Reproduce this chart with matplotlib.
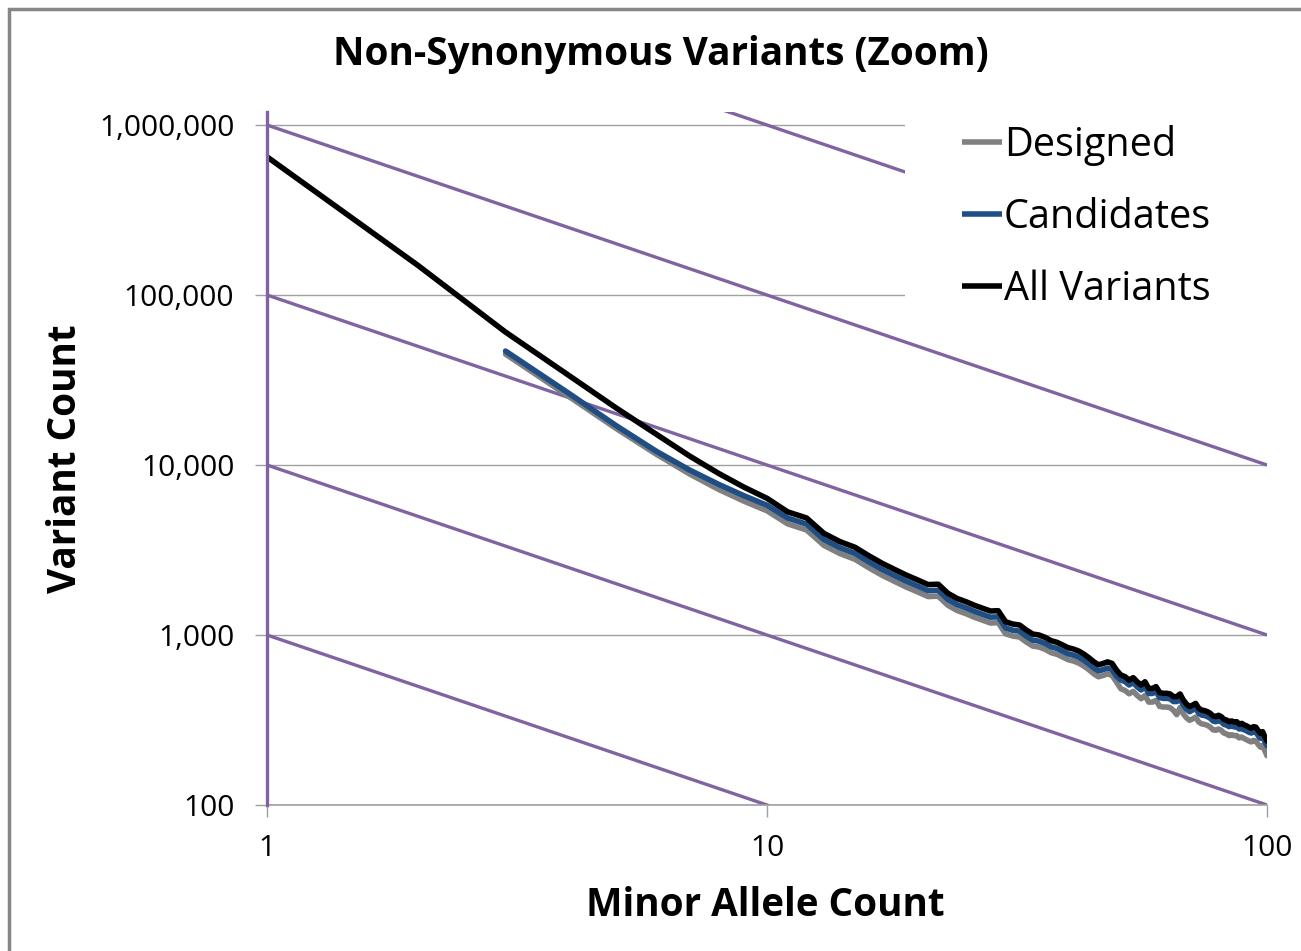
import matplotlib
matplotlib.use("Agg")
import matplotlib.pyplot as plt
from matplotlib.patches import Rectangle
from matplotlib.ticker import FixedLocator, FixedFormatter, NullLocator

plt.rcParams['font.family'] = ['Open Sans', 'DejaVu Sans']

# ---------------- data ----------------
title = "Non-Synonymous Variants (Zoom)"
x_label = "Minor Allele Count"
y_label = "Variant Count"
series_names = ["Designed", "Candidates", "All Variants"]

x_all = list(range(1, 101))
all_variants = [
    650000, 150000, 60500, 33900, 21600, 15200, 11300, 8930, 7400, 6370,
    5300, 4880, 3960, 3540, 3280, 2920, 2640, 2430, 2250, 2110,
    1980, 1990, 1760, 1640, 1570, 1495, 1436, 1384, 1390, 1197,
    1160, 1145, 1070, 1013, 1000, 968, 926, 906, 874, 842,
    827, 805, 773, 736, 697, 668, 680, 695, 680, 622,
    582, 569, 543, 561, 531, 508, 531, 485, 485, 497,
    458, 454, 454, 450, 434, 434, 450, 415, 393, 379,
    387, 396, 371, 362, 359, 354, 346, 334, 331, 337,
    331, 319, 316, 309, 312, 308, 309, 299, 302, 296,
    292, 287, 283, 289, 287, 274, 264, 270, 252, 238,
]

x_sub = list(range(3, 101))
candidates = [
    46800, 26600, 17000, 12070, 9350, 7700, 6590, 5800,
    4876, 4490, 3643, 3257, 3018, 2686, 2429, 2236, 2070, 1941,
    1822, 1831, 1619, 1509, 1444, 1375, 1321, 1273, 1279, 1101,
    1067, 1053, 984, 932, 920, 891, 852, 834, 804, 775,
    761, 741, 711, 677, 641, 615, 626, 639, 626, 572,
    544, 532, 508, 525, 496, 475, 496, 453, 453, 465,
    428, 424, 424, 421, 406, 406, 421, 388, 367, 354,
    362, 370, 347, 338, 336, 331, 324, 312, 309, 315,
    309, 298, 295, 289, 292, 288, 289, 280, 282, 277,
    273, 268, 265, 270, 268, 256, 247, 252, 236, 223,
]
designed = [
    44900, 25500, 16350, 11600, 8860, 7190, 6120, 5380,
    4505, 4148, 3366, 3009, 2788, 2482, 2244, 2066, 1913, 1794,
    1683, 1692, 1496, 1394, 1335, 1271, 1221, 1176, 1182, 1017,
    986, 973, 910, 861, 850, 823, 787, 770, 743, 716,
    703, 684, 657, 626, 592, 568, 578, 591, 578, 529,
    483, 472, 451, 466, 441, 422, 441, 403, 403, 413,
    380, 377, 377, 374, 360, 340, 374, 344, 326, 315,
    321, 329, 308, 300, 298, 294, 287, 277, 275, 280,
    275, 265, 262, 256, 259, 256, 256, 248, 251, 246,
    242, 238, 235, 240, 238, 227, 219, 224, 209, 195,
]

# guide lines of slope -1 (value = C / x), given by their value at x = 1
guide_constants = [1e3, 1e4, 1e5, 1e6, 1e7]
guide_x = [1, 100]

x_ticks = [1, 10, 100]
x_tick_labels = ["1", "10", "100"]
y_ticks = [100, 1000, 10000, 100000, 1000000]
y_tick_labels = ["100", "1,000", "10,000", "100,000", "1,000,000"]

# ---------------- figure ----------------
W, H, DPI = 1301, 951, 100
fig = plt.figure(figsize=(W / DPI, H / DPI), dpi=DPI)
ax = fig.add_axes([267 / W, (H - 805) / H, 1000 / W, (805 - 112) / H])
ax.set_xscale('log')
ax.set_yscale('log')
ax.set_xlim(1, 100)
ax.set_ylim(100, 1.193e6)

purple = '#8064A2'
gray_axis = '#A0A0A0'

ax.yaxis.grid(True, which='major', color=gray_axis, lw=1.0, zorder=0)
ax.xaxis.grid(False)
ax.set_axisbelow(True)

for c in guide_constants:
    ax.plot(guide_x, [c / gx for gx in guide_x], color=purple, lw=2.4,
            solid_capstyle='butt', zorder=2)

lw_data = 4.0
l_des, = ax.plot(x_sub, designed, color='#808080', lw=lw_data, zorder=3,
                 solid_joinstyle='round', solid_capstyle='round')
l_can, = ax.plot(x_sub, candidates, color='#1F4E85', lw=lw_data, zorder=4,
                 solid_joinstyle='round', solid_capstyle='round')
l_all, = ax.plot(x_all, all_variants, color='#000000', lw=lw_data, zorder=5,
                 solid_joinstyle='round', solid_capstyle='round')

# spines
for s in ['top', 'right']:
    ax.spines[s].set_visible(False)
ax.spines['bottom'].set_color(gray_axis)
ax.spines['bottom'].set_linewidth(1.2)
ax.spines['left'].set_color(purple)
ax.spines['left'].set_linewidth(2.4)
ax.spines['left'].set_zorder(6)

ax.xaxis.set_major_locator(FixedLocator(x_ticks))
ax.xaxis.set_major_formatter(FixedFormatter(x_tick_labels))
ax.xaxis.set_minor_locator(NullLocator())
ax.yaxis.set_major_locator(FixedLocator(y_ticks))
ax.yaxis.set_major_formatter(FixedFormatter(y_tick_labels))
ax.yaxis.set_minor_locator(NullLocator())
ax.tick_params(axis='both', which='major', direction='out', length=8.6,
               width=1.0, color=gray_axis, labelsize=21.5, labelcolor='black')
ax.tick_params(axis='x', pad=12)
ax.tick_params(axis='y', pad=15)

# legend background (covers plot area behind it)
ax.add_patch(Rectangle((0.638, 0.70), 0.362, 0.30, transform=ax.transAxes,
                       facecolor='white', edgecolor='none', zorder=7))
leg = ax.legend([l_des, l_can, l_all], series_names, loc='upper left',
                bbox_to_anchor=(962 / W, 1 - 125 / H),
                bbox_transform=fig.transFigure, frameon=False,
                fontsize=28.5, handlelength=1.0, handletextpad=0.06,
                labelspacing=0.80, borderpad=0, borderaxespad=0)
leg.set_zorder(8)
for h in leg.legend_handles:
    h.set_linewidth(lw_data)
    h.set_solid_capstyle('butt')

# labels
fig.text(661 / W, 1 - 55 / H, title, ha='center', va='center',
         fontsize=27.8, fontweight='bold')
ax.set_xlabel(x_label, fontsize=27.8, fontweight='bold')
ax.xaxis.set_label_coords(0.4985, (805 - 905) / 693)
ax.xaxis.label.set_va('center')
ax.set_ylabel(y_label, fontsize=27.8, fontweight='bold')
ax.yaxis.set_label_coords((65 - 267) / 1000, (805 - 459) / 693)
ax.yaxis.label.set_va('center')

# chart outer border (left and top edges visible)
fig.add_artist(Rectangle((8.5 / W, -0.05), 1.2, (H - 8.5) / H + 0.05,
                         transform=fig.transFigure, facecolor='none',
                         edgecolor='#868686', lw=2.5))

fig.savefig('out.png', dpi=DPI)
